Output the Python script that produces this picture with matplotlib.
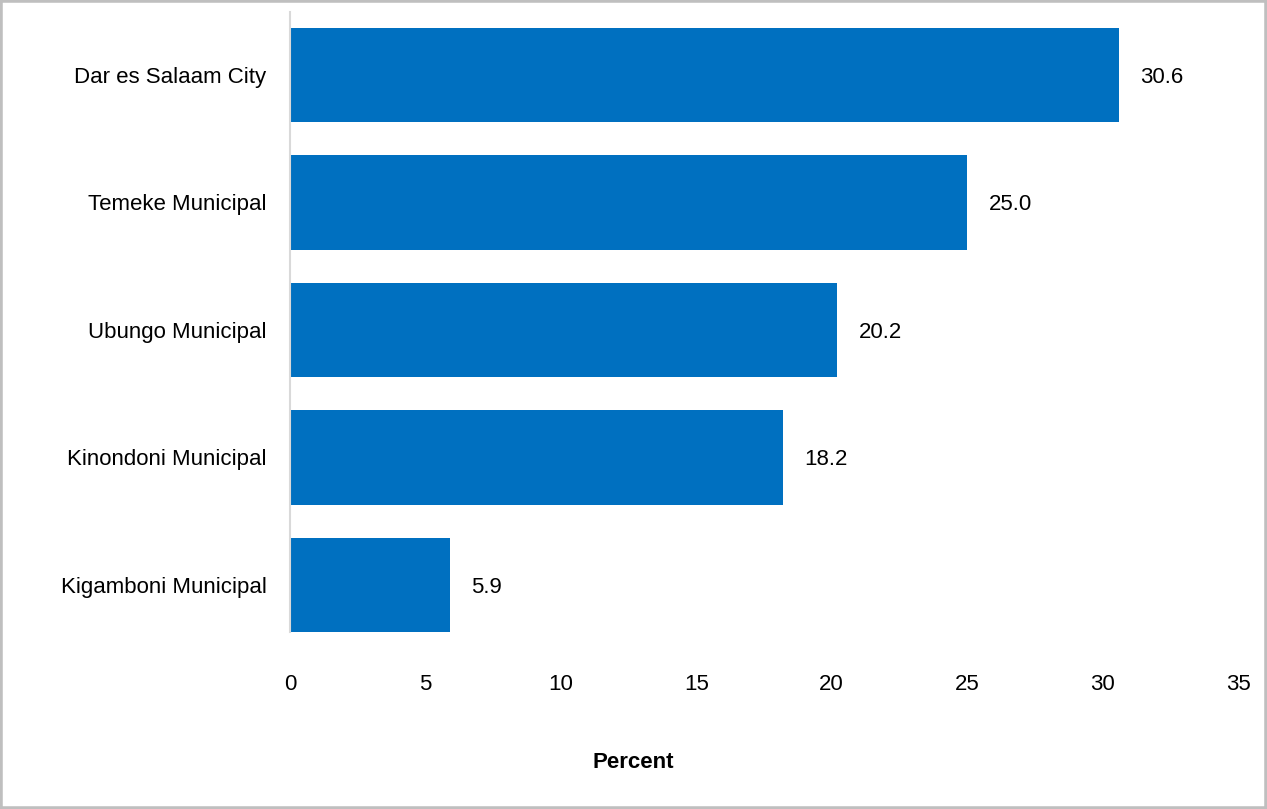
import matplotlib.pyplot as plt
from matplotlib.patches import Rectangle

plt.rcParams['font.family'] = ['Liberation Sans', 'DejaVu Sans']

# data
districts = ["Dar es Salaam City", "Temeke Municipal", "Ubungo Municipal",
             "Kinondoni Municipal", "Kigamboni Municipal"]
percent = [30.6, 25.0, 20.2, 18.2, 5.9]
x_ticks = [0, 5, 10, 15, 20, 25, 30, 35]

fig = plt.figure(figsize=(12.67, 8.09), dpi=100)
ax = fig.add_axes([0.2289, 0.2188, 0.7482, 0.7664])

pos = list(range(len(districts)))
ax.barh(pos, percent, height=0.74, color="#0070C0")

for p, v in zip(pos, percent):
    ax.text(v + 0.8, p + 0.02, f"{v:.1f}", va="center", ha="left", fontsize=16)

ax.set_xlim(0, 35)
ax.set_ylim(4.37, -0.494)
ax.set_yticks(pos)
ax.set_yticklabels(districts, fontsize=16)
ax.set_xticks(x_ticks)
ax.tick_params(axis="y", length=0, pad=17)
ax.tick_params(axis="x", length=0, pad=30, labelsize=16)

for s in ["top", "right", "bottom"]:
    ax.spines[s].set_visible(False)
ax.spines["left"].set_color("#D9D9D9")
ax.spines["left"].set_linewidth(1.5)

ax.set_xlabel("Percent", fontsize=16, fontweight="bold")
ax.xaxis.set_label_coords(0.362, -0.194)

# grey frame round the figure
fig.patches.append(Rectangle((0, 0), 1, 1, transform=fig.transFigure, fill=False,
                             edgecolor="#BFBFBF", linewidth=4))

plt.savefig("out.png", dpi=100)
